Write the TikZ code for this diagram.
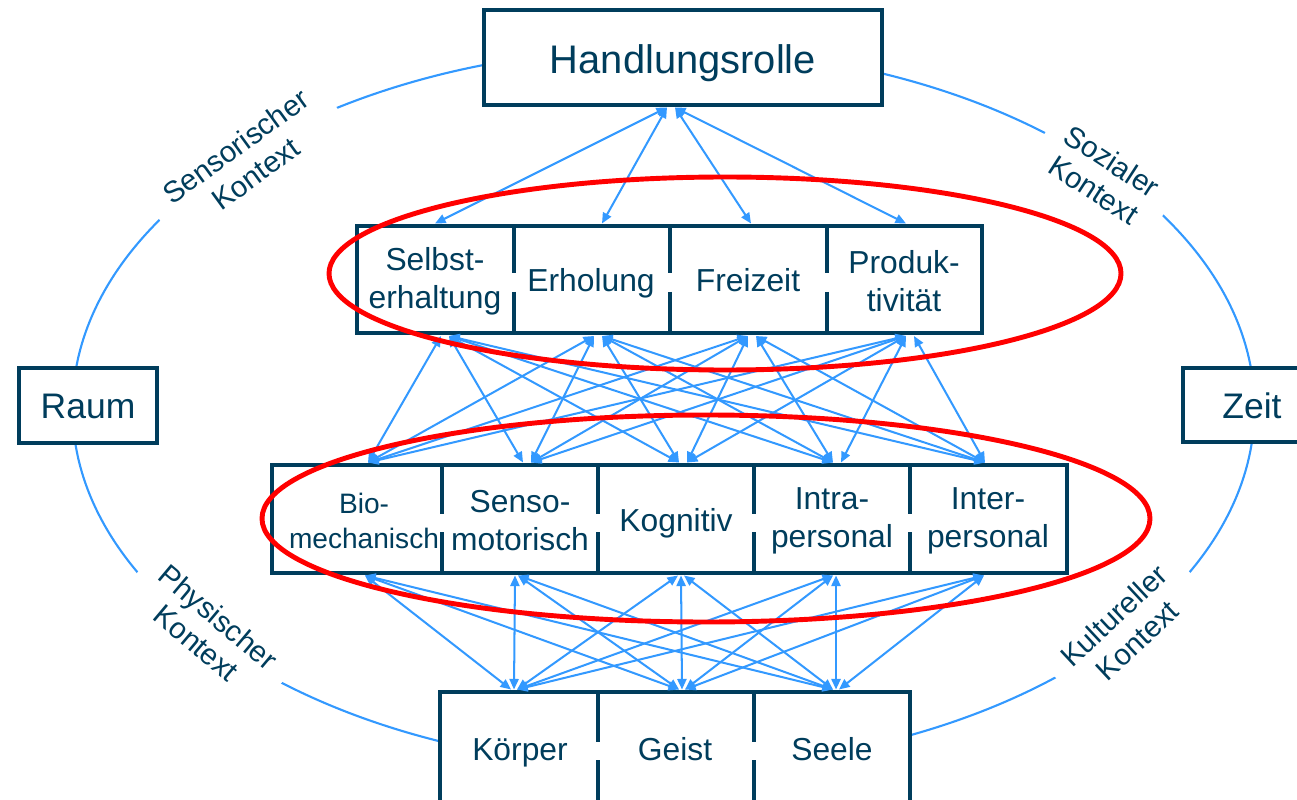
\documentclass[tikz,border=0pt]{standalone}
\usepackage{fontspec}
\setmainfont{Liberation Sans}
\usetikzlibrary{arrows.meta}
\definecolor{navy}{RGB}{0,61,92}
\definecolor{linkblue}{RGB}{51,153,255}
\definecolor{ovalred}{RGB}{255,0,0}

\begin{document}
\begin{tikzpicture}[x=0.02cm,y=-0.02cm,
  box/.style 2 args={minimum width=#1*0.02cm, minimum height=#2*0.02cm},
  frame/.style={draw=navy, line width=2.6pt, fill=white, inner sep=0pt, text=navy},
  divider/.style={navy, line width=2.6pt},
  txt/.style={text=navy, align=center, inner sep=0pt},
  cell/.style={txt, font=\fontsize{18.1}{21.6}\selectfont},
  link/.style={linkblue, line width=1.15pt,
    {Triangle[length=6pt,width=5.2pt]}-{Triangle[length=6pt,width=5.2pt]}},
  ctx/.style={fill=white, text=navy, align=center,
    font=\fontsize{16.8}{19.3}\selectfont, inner xsep=10.5pt, inner ysep=1pt},
  oval/.style={ovalred, line width=2.8pt},
]
\useasboundingbox (0,0) rectangle (1297,800);
\clip (0,0) rectangle (1297,800);

% surrounding context ring
\draw[linkblue, line width=1.2pt] (663.5,408) ellipse [x radius=591, y radius=360];

% frames
\node[frame, box={398}{95}] (role) at (683,57.5) {};
\node[frame, box={625}{107}] (occ) at (669.5,279.5) {};
\node[frame, box={795}{108}] (comp) at (669.5,519) {};
\node[frame, box={470}{140}] (being) at (675,762) {};
\node[frame, box={138}{75}] (raum) at (88,405.5) {};
\node[frame, box={138}{74}] (zeit) at (1252,405) {};

% frame titles, set on their baselines
\node[txt, anchor=base, font=\fontsize{22.7}{27}\selectfont] (roletxt) at (683,74) {Handlungsrolle};
\node[txt, anchor=base, font=\fontsize{20.2}{24}\selectfont] (raumtxt) at (88,418) {Raum};
\node[txt, anchor=base, font=\fontsize{20.2}{24}\selectfont] (zeittxt) at (1252,418) {Zeit};

% cell dividers, interrupted behind the labels
\foreach \x in {514,670,827} \draw[divider] (\x,226) -- (\x,273) (\x,292) -- (\x,333);
\foreach \x in {442,598,754,910} \draw[divider] (\x,465) -- (\x,514) (\x,532) -- (\x,573);
\foreach \x in {598,754} \draw[divider] (\x,692) -- (\x,742) (\x,760) -- (\x,810);

% occupation areas
\node[cell] (selbst) at (435,281.5) {Selbst-\\erhaltung};
\node[cell, anchor=base] (erhol) at (591,292) {Erholung};
\node[cell, anchor=base] (frei) at (748,292) {Freizeit};
\node[cell] (prod) at (904,281.5) {Produk-\\tivität};

% performance components
\node[txt, font=\fontsize{16}{19.6}\selectfont] (bio) at (364,521) {Bio-\\mechanisch};
\node[cell] (senso) at (520,521) {Senso-\\motorisch};
\node[cell, anchor=base] (kog) at (676,531) {Kognitiv};
\node[cell] (intra) at (832,521) {Intra-\\personal};
\node[cell] (inter) at (988,521) {Inter-\\personal};

% being
\node[cell, anchor=base] (koerper) at (520,760) {Körper};
\node[cell, anchor=base] (geist) at (675,760) {Geist};
\node[cell, anchor=base] (seele) at (832,760) {Seele};

% connector anchors on the frame edges
\coordinate (rL) at (667,107.5);
\coordinate (rR) at (675,107.5);
\foreach \n/\x in {1/435,2/602,3/751,4/906} \coordinate (ot\n) at (\x,223.5);
\foreach \n/\x in {1/445,2/598,3/752,4/910} \coordinate (ob\n) at (\x,336);
\foreach \n/\x in {1/364,2/527,3/683,4/837,5/989} \coordinate (ct\n) at (\x,462.5);
\foreach \n/\x in {1/362,2/515,3/681,4/836,5/987} \coordinate (cb\n) at (\x,575.5);
\foreach \n/\x in {1/514,2/682,3/836} \coordinate (bt\n) at (\x,689.5);

% role <-> occupations
\draw[link] (rL) -- (ot1);
\draw[link] (rL) -- (ot2);
\draw[link] (rR) -- (ot3);
\draw[link] (rR) -- (ot4);

% occupations <-> components
\foreach \i in {1,...,4}{
  \foreach \j in {1,...,5}{
    \pgfmathsetmacro\s{ifthenelse(\j>\i,0.08,-0.08)}
    \draw[link] ([xshift=\s cm]ob\i) -- ([xshift=-\s cm]ct\j);
  }
}

% components <-> being
\foreach \j in {1,...,5}{
  \foreach \k in {1,...,3}{
    \pgfmathsetmacro\s{0.06*sign(\k+1-\j)}
    \draw[link] ([xshift=\s cm]cb\j) -- ([xshift=-\s cm]bt\k);
  }
}

% context labels on the ring
\node[ctx, rotate=36] (sens) at (245.5,160) {Sensorischer\\Kontext};
\node[ctx, rotate=-33] (sozial) at (1103,175.5) {Sozialer\\Kontext};
\node[ctx, rotate=-40] (phys) at (207.5,630) {Physischer\\Kontext};
\node[ctx, rotate=43] (kultur) at (1125.5,628) {Kultureller\\Kontext};

% highlight ovals
\draw[oval] (725,273.5) ellipse [x radius=396, y radius=96.5];
\draw[oval] (706,518.5) ellipse [x radius=444, y radius=103.5];
\end{tikzpicture}
\end{document}
